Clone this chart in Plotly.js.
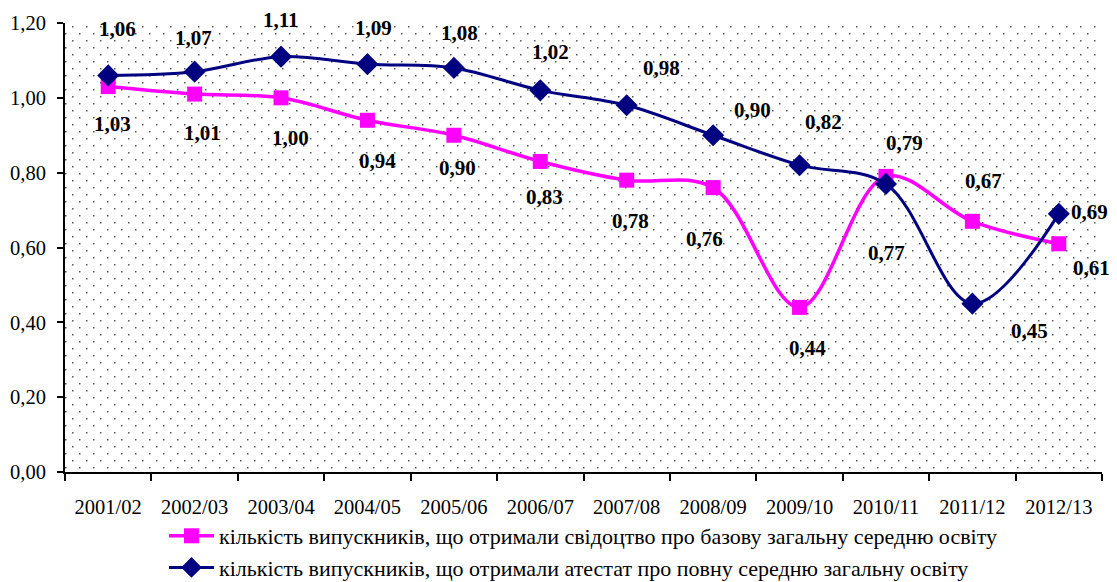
<!DOCTYPE html>
<html>
<head>
<meta charset="utf-8">
<script src="https://cdn.plot.ly/plotly-3.0.1.min.js"></script>
<style>
html,body{margin:0;padding:0;background:#fff;}
#chart{width:1117px;height:582px;}
</style>
</head>
<body>
<div id="chart"></div>
<script>
const categories = ['2001/02','2002/03','2003/04','2004/05','2005/06','2006/07','2007/08','2008/09','2009/10','2010/11','2011/12','2012/13'];
const basicValues = [1.03, 1.01, 1.00, 0.94, 0.90, 0.83, 0.78, 0.76, 0.44, 0.79, 0.67, 0.61];
const fullValues  = [1.06, 1.07, 1.11, 1.09, 1.08, 1.02, 0.98, 0.90, 0.82, 0.77, 0.45, 0.69];
const basicName = 'кількість випускників, що отримали свідоцтво про базову загальну середню освіту';
const fullName  = 'кількість випускників, що отримали атестат про повну середню загальну освіту';

// label placement offsets in pixels [dx, dy(up)]
const basicLabelOffsets = [[4,-37],[8,-39],[9,-40],[10,-41],[4,-33],[4,-36],[4,-41],[-9,-51],[8,-41],[19,33],[11,40],[33,-24]];
const fullLabelOffsets  = [[9,46],[-1,34],[0,37],[6,36],[6,35],[10,38],[35,37],[39,25],[24,43],[1,-69],[57,-27],[31,2]];

const pink = '#FF00FF';
const navy = '#000080';
const serif = '"Liberation Serif"';

const plotW = 1117 - 65 - 15;
const plotH = 582 - 23 - 110;
const svg = `<svg xmlns="http://www.w3.org/2000/svg" width="${plotW}" height="${plotH}">` +
  `<defs><pattern id="p" x="7" y="3" width="14" height="14" patternUnits="userSpaceOnUse">` +
  `<rect x="0" y="0" width="1.5" height="1.5" fill="#555"/>` +
  `<rect x="7" y="7" width="1.5" height="1.5" fill="#555"/></pattern></defs>` +
  `<rect x="0" y="0" width="${plotW - 4}" height="${plotH}" fill="url(#p)"/></svg>`;
const bgSrc = 'data:image/svg+xml;charset=utf-8,' + encodeURIComponent(svg);

const traces = [
  {
    x: categories, y: basicValues, name: basicName, type: 'scatter', mode: 'lines+markers',
    line: {color: pink, width: 3.5, shape: 'spline', smoothing: 1},
    marker: {symbol: 'square', size: 15, color: pink}
  },
  {
    x: categories, y: fullValues, name: fullName, type: 'scatter', mode: 'lines+markers',
    line: {color: navy, width: 3, shape: 'spline', smoothing: 1},
    marker: {symbol: 'diamond', size: 17, color: navy}
  }
];

const annotations = [];
function addLabels(vals, offs) {
  vals.forEach((v, i) => {
    annotations.push({
      x: categories[i], y: v, xref: 'x', yref: 'y',
      text: '<b>' + v.toFixed(2).replace('.', ',') + '</b>',
      showarrow: false, xshift: offs[i][0], yshift: offs[i][1],
      font: {family: serif, size: 21, color: '#000'}
    });
  });
}
addLabels(basicValues, basicLabelOffsets);
addLabels(fullValues, fullLabelOffsets);

const layout = {
  width: 1117, height: 582,
  margin: {l: 65, r: 15, t: 23, b: 110, pad: 0, autoexpand: false},
  paper_bgcolor: '#fff', plot_bgcolor: 'rgba(0,0,0,0)',
  separators: ', ',
  showlegend: true,
  font: {family: serif, color: '#000'},
  xaxis: {
    type: 'category', showgrid: false, zeroline: false, automargin: false,
    showline: true, linecolor: '#000', linewidth: 2,
    ticks: 'outside', tickson: 'boundaries', ticklen: 7, tickwidth: 2, tickcolor: '#000',
    tickfont: {family: serif, size: 20.5, color: '#000'}, tickangle: 0,
    ticklabelstandoff: 15,
    range: [-0.5, 11.5]
  },
  yaxis: {
    range: [0, 1.2], dtick: 0.2, tickformat: '.2f', showgrid: false, zeroline: false, automargin: false,
    showline: true, linecolor: '#000', linewidth: 2,
    ticks: 'outside', ticklen: 6, tickwidth: 2, tickcolor: '#000',
    tickfont: {family: serif, size: 20.5, color: '#000'},
    ticklabelstandoff: 7
  },
  legend: {
    orientation: 'v', xref: 'container', yref: 'container',
    x: 164/1117, y: 1 - 515/582, xanchor: 'left', yanchor: 'top',
    font: {family: serif, size: 22, color: '#000'},
    bgcolor: 'rgba(0,0,0,0)', tracegroupgap: 0, itemwidth: 45
  },
  images: [{
    source: bgSrc, xref: 'paper', yref: 'paper', x: 0, y: 1, sizex: 1, sizey: 1,
    xanchor: 'left', yanchor: 'top', sizing: 'stretch', layer: 'below'
  }],
  annotations: annotations
};

Plotly.newPlot('chart', traces, layout, {displayModeBar: false, staticPlot: true});
</script>
</body>
</html>
